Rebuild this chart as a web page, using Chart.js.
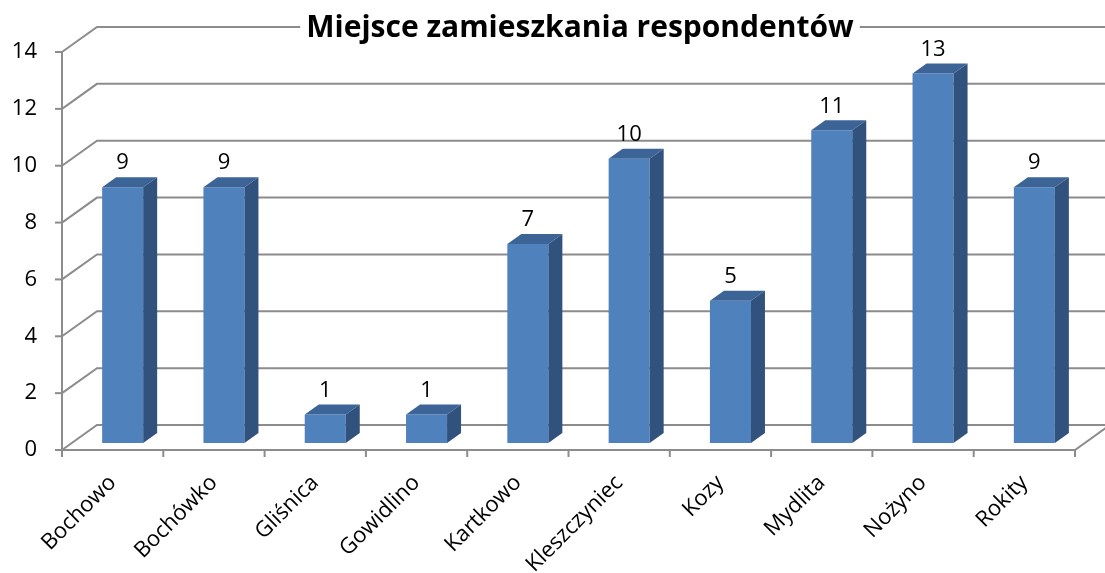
<!DOCTYPE html>
<html>
<head>
<meta charset="utf-8">
<script src="https://cdn.jsdelivr.net/npm/chart.js@4"></script>
<style>
  body { margin: 0; background: #fff; }
  #wrap { width: 1105px; height: 573px; }
</style>
</head>
<body>
<div id="wrap"><canvas id="respondenci"></canvas></div>
<script>
const categories = ['Bochowo', 'Bochówko', 'Gliśnica', 'Gowidlino', 'Kartkowo', 'Kleszczyniec', 'Kozy', 'Mydlita', 'Nożyno', 'Rokity'];
const counts = [9, 9, 1, 1, 7, 10, 5, 11, 13, 9];
const yTicks = [0, 2, 4, 6, 8, 10, 12, 14];
const chartTitle = 'Miejsce zamieszkania respondentów';

const FONT = '"Open Sans", "DejaVu Sans", sans-serif';
const wall = { dx: 35, dy: -25 };      // back wall offset
const barShift = { dx: 10, dy: -7 };   // bars stand in the middle of the floor
const barDepth = { dx: 14, dy: -10 };
const gridColor = '#8c8c8c';

// draws the fake 3d: back wall grid, floor, bar sides and labels
const fake3d = {
    id: 'fake3d',
    beforeDatasetsDraw(chart) {
        const ctx = chart.ctx;
        const x = chart.scales.x, y = chart.scales.y;
        const left = x.left, right = x.right;
        ctx.save();
        ctx.strokeStyle = gridColor;
        ctx.lineWidth = 2;
        yTicks.forEach(v => {
            const py = y.getPixelForValue(v);
            ctx.beginPath();
            ctx.moveTo(left, py);
            ctx.lineTo(left + wall.dx, py + wall.dy);
            ctx.lineTo(chart.width + 5, py + wall.dy);
            ctx.stroke();
        });
        // left wall edge
        ctx.beginPath();
        ctx.moveTo(left, y.getPixelForValue(0));
        ctx.lineTo(left, y.getPixelForValue(14));
        ctx.stroke();
        // floor front edge + right diagonal
        const py0 = y.getPixelForValue(0);
        ctx.beginPath();
        ctx.moveTo(left - 6, py0);
        ctx.lineTo(right, py0);
        ctx.lineTo(right + wall.dx, py0 + wall.dy);
        ctx.stroke();
        // y ticks
        yTicks.forEach(v => {
            const py = y.getPixelForValue(v);
            ctx.beginPath();
            ctx.moveTo(left - 7, py);
            ctx.lineTo(left, py);
            ctx.stroke();
        });
        // category ticks
        for (let i = 0; i <= categories.length; i++) {
            const px = left + (right - left) * i / categories.length;
            ctx.beginPath();
            ctx.moveTo(px, py0);
            ctx.lineTo(px, py0 + 7);
            ctx.stroke();
        }
        ctx.restore();

        ctx.save();
        ctx.translate(barShift.dx, barShift.dy);
    },
    afterDatasetsDraw(chart) {
        const ctx = chart.ctx;
        const meta = chart.getDatasetMeta(0);
        meta.data.forEach((bar, i) => {
            const l = bar.x - bar.width / 2, r = bar.x + bar.width / 2;
            const t = bar.y, b = bar.base;
            // top face
            ctx.fillStyle = '#3d6496';
            ctx.beginPath();
            ctx.moveTo(l, t);
            ctx.lineTo(l + barDepth.dx, t + barDepth.dy);
            ctx.lineTo(r + barDepth.dx, t + barDepth.dy);
            ctx.lineTo(r, t);
            ctx.closePath();
            ctx.fill();
            // side face
            ctx.fillStyle = '#32527e';
            ctx.beginPath();
            ctx.moveTo(r, t);
            ctx.lineTo(r + barDepth.dx, t + barDepth.dy);
            ctx.lineTo(r + barDepth.dx, b + barDepth.dy);
            ctx.lineTo(r, b);
            ctx.closePath();
            ctx.fill();
            // value label
            ctx.fillStyle = '#000';
            ctx.font = '22px ' + FONT;
            ctx.textAlign = 'center';
            ctx.textBaseline = 'bottom';
            ctx.fillText(String(counts[i]), bar.x, t + barDepth.dy - 3);
        });
        ctx.restore();
    },
    afterDraw(chart) {
        const ctx = chart.ctx;
        ctx.save();
        ctx.font = 'bold 30px ' + FONT;
        const w = ctx.measureText(chartTitle).width;
        const cx = 580, cy = 28;
        ctx.fillStyle = '#fff';
        ctx.fillRect(cx - w / 2 - 6, cy - 20, w + 12, 38);
        ctx.fillStyle = '#000';
        ctx.textAlign = 'center';
        ctx.textBaseline = 'middle';
        ctx.fillText(chartTitle, cx, cy);
        ctx.restore();
    }
};

new Chart(document.getElementById('respondenci'), {
    type: 'bar',
    data: {
        labels: categories,
        datasets: [{
            data: counts,
            backgroundColor: '#4f81bd',
            borderWidth: 0,
            categoryPercentage: 1,
            barPercentage: 0.405
        }]
    },
    options: {
        responsive: true,
        maintainAspectRatio: false,
        animation: false,
        layout: { padding: { top: 52, right: 30, left: 0, bottom: 0 } },
        plugins: {
            legend: { display: false },
            tooltip: { enabled: false }
        },
        scales: {
            x: {
                grid: { display: false, drawTicks: false },
                border: { display: false },
                ticks: {
                    color: '#000',
                    font: { family: FONT, size: 22 },
                    maxRotation: 45,
                    minRotation: 45,
                    autoSkip: false,
                    padding: 20
                },
                afterFit: s => { s.height = 123; }
            },
            y: {
                min: 0,
                max: 14,
                grid: { display: false, drawTicks: false },
                border: { display: false },
                ticks: {
                    stepSize: 2,
                    color: '#000',
                    font: { family: FONT, size: 22 },
                    padding: 25
                },
                afterFit: s => { s.width = 62; }
            }
        }
    },
    plugins: [fake3d]
});
</script>
</body>
</html>
